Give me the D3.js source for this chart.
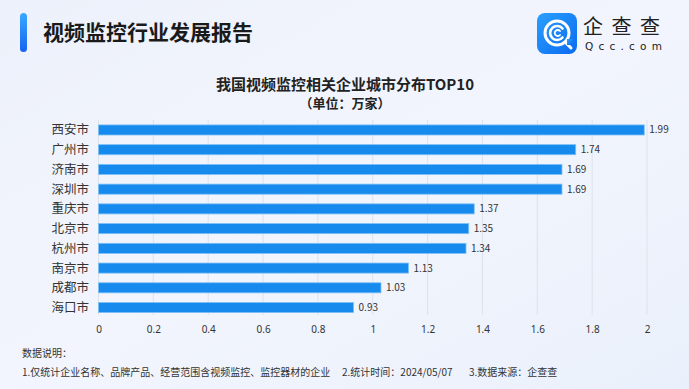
<!DOCTYPE html>
<html>
<head>
<meta charset="utf-8">
<script src="https://cdn.jsdelivr.net/npm/d3@7"></script>
<style>
  body { margin: 0; padding: 0; }
  svg { display: block; font-family: "Noto Sans CJK SC", "Noto Sans", sans-serif; }
</style>
</head>
<body>
<svg id="chart" width="689" height="389"></svg>
<script>
// data
var cities = ['西安市', '广州市', '济南市', '深圳市', '重庆市', '北京市', '杭州市', '南京市', '成都市', '海口市'];
var counts = [1.99, 1.74, 1.69, 1.69, 1.37, 1.35, 1.34, 1.13, 1.03, 0.93];
var xTicks = [0, 0.2, 0.4, 0.6, 0.8, 1, 1.2, 1.4, 1.6, 1.8, 2];
var noteTitle = '数据说明：';
var noteParts = ['1.仅统计企业名称、品牌产品、经营范围含视频监控、监控器材的企业', '2.统计时间：2024/05/07', '3.数据来源：企查查'];

var svg = d3.select('#chart');
var W = 689, H = 389;

var defs = svg.append('defs');
var bg = defs.append('linearGradient').attr('id', 'bg')
    .attr('x1', '0').attr('y1', '0').attr('x2', '1').attr('y2', '1');
bg.append('stop').attr('offset', '0').attr('stop-color', '#edf1fb');
bg.append('stop').attr('offset', '0.5').attr('stop-color', '#f2f5fd');
bg.append('stop').attr('offset', '1').attr('stop-color', '#eaf0fb');

var pill = defs.append('linearGradient').attr('id', 'pill')
    .attr('x1', '0').attr('y1', '0').attr('x2', '0').attr('y2', '1');
pill.append('stop').attr('offset', '0').attr('stop-color', '#3aa8ff');
pill.append('stop').attr('offset', '1').attr('stop-color', '#1463f0');

var logo = defs.append('linearGradient').attr('id', 'logo')
    .attr('x1', '0').attr('y1', '0').attr('x2', '1').attr('y2', '1');
logo.append('stop').attr('offset', '0').attr('stop-color', '#2aa0fb');
logo.append('stop').attr('offset', '1').attr('stop-color', '#0b6af2');

svg.append('rect').attr('width', W).attr('height', H).attr('fill', 'url(#bg)');

// header
svg.append('rect')
    .attr('x', 20).attr('y', 13).attr('width', 7).attr('height', 39)
    .attr('rx', 3.5).attr('fill', 'url(#pill)');

svg.append('text')
    .attr('x', 43).attr('y', 40)
    .attr('font-size', 21).attr('font-weight', 'bold').attr('fill', '#1a1a1a')
    .text('视频监控行业发展报告');

// logo
var lg = svg.append('g').attr('transform', 'translate(537,13)');
lg.append('rect').attr('width', 40).attr('height', 41).attr('rx', 8).attr('fill', 'url(#logo)');
lg.append('circle').attr('cx', 20).attr('cy', 20).attr('r', 12)
    .attr('fill', 'none').attr('stroke', '#fff').attr('stroke-width', 3);
lg.append('path')
    .attr('d', 'M25.5,15.5 A7,7 0 1 0 25.5,24.5')
    .attr('fill', 'none').attr('stroke', '#fff').attr('stroke-width', 2.6).attr('stroke-linecap', 'round');
lg.append('path')
    .attr('d', 'M23,18 A3,3 0 1 0 23,22')
    .attr('fill', 'none').attr('stroke', '#fff').attr('stroke-width', 1.8).attr('stroke-linecap', 'round');
lg.append('path')
    .attr('d', 'M28,29 L34,35')
    .attr('stroke', '#fff').attr('stroke-width', 3).attr('stroke-linecap', 'round');
lg.append('rect').attr('x', 30).attr('y', 26).attr('width', 6).attr('height', 6).attr('fill', 'url(#logo)');

svg.append('text')
    .attr('x', 583).attr('y', 34)
    .attr('font-size', 20).attr('fill', '#222')
    .attr('textLength', 77)
    .text('企查查');
svg.append('text')
    .attr('x', 585).attr('y', 50)
    .attr('font-size', 10.5).attr('fill', '#222')
    .attr('font-family', 'DejaVu Sans')
    .attr('textLength', 77)
    .text('Qcc.com');

// chart title
svg.append('text')
    .attr('x', 345).attr('y', 90)
    .attr('text-anchor', 'middle')
    .attr('font-size', 15).attr('font-weight', 'bold').attr('fill', '#222')
    .text('我国视频监控相关企业城市分布TOP10');
svg.append('text')
    .attr('x', 345).attr('y', 108)
    .attr('text-anchor', 'middle')
    .attr('font-size', 13).attr('font-weight', 'bold').attr('fill', '#222')
    .text('（单位：万家）');

// scales
var margin = {left: 98.5, right: 42, top: 120, bottom: 72};
var x = d3.scaleLinear().domain([0, 2]).range([margin.left, 647]);
var y = d3.scaleBand().domain(cities).range([margin.top, 317.5]).paddingInner(0.49).paddingOuter(0.25);

var g = svg.append('g');

// grid
g.selectAll('.grid').data(xTicks).enter()
    .append('line')
    .attr('class', 'grid')
    .attr('x1', function(d) { return x(d); })
    .attr('x2', function(d) { return x(d); })
    .attr('y1', margin.top)
    .attr('y2', 315)
    .attr('stroke', '#dde2ea').attr('stroke-width', 1);

// bars
g.selectAll('.bar').data(cities).enter()
    .append('rect')
    .attr('class', 'bar')
    .attr('x', x(0))
    .attr('y', function(d) { return y(d); })
    .attr('width', function(d, i) { return x(counts[i]) - x(0); })
    .attr('height', y.bandwidth())
    .attr('fill', '#168aed')
    .attr('stroke', '#7cc0f6').attr('stroke-width', 0.8);

// value labels
g.selectAll('.val').data(cities).enter()
    .append('text')
    .attr('class', 'val')
    .attr('x', function(d, i) { return x(counts[i]) + 5; })
    .attr('y', function(d) { return y(d) + y.bandwidth() / 2; })
    .attr('dy', '0.35em')
    .attr('font-size', 10).attr('fill', '#333')
    .text(function(d, i) { return counts[i].toFixed(2); });

// category axis
g.selectAll('.cat').data(cities).enter()
    .append('text')
    .attr('class', 'cat')
    .attr('x', 89)
    .attr('y', function(d) { return y(d) + y.bandwidth() / 2; })
    .attr('dy', '0.36em')
    .attr('text-anchor', 'end')
    .attr('font-size', 12.5).attr('fill', '#333')
    .text(function(d) { return d; });

// x axis
var xAxis = d3.axisBottom(x).tickValues(xTicks).tickSize(0).tickPadding(0)
    .tickFormat(function(d) { return d3.format('~g')(d); });
var ax = svg.append('g').attr('transform', 'translate(0,326)').call(xAxis);
ax.select('.domain').remove();
ax.selectAll('text')
    .attr('font-size', 10).attr('fill', '#333')
    .attr('font-family', '"Noto Sans", sans-serif');

// notes
svg.append('text')
    .attr('x', 22).attr('y', 357)
    .attr('font-size', 10).attr('fill', '#333')
    .text(noteTitle);

var noteX = [22, 342, 469];
svg.selectAll('.note').data(noteParts).enter()
    .append('text')
    .attr('class', 'note')
    .attr('x', function(d, i) { return noteX[i]; })
    .attr('y', 376)
    .attr('font-size', 10).attr('fill', '#333')
    .text(function(d) { return d; });
</script>
</body>
</html>
